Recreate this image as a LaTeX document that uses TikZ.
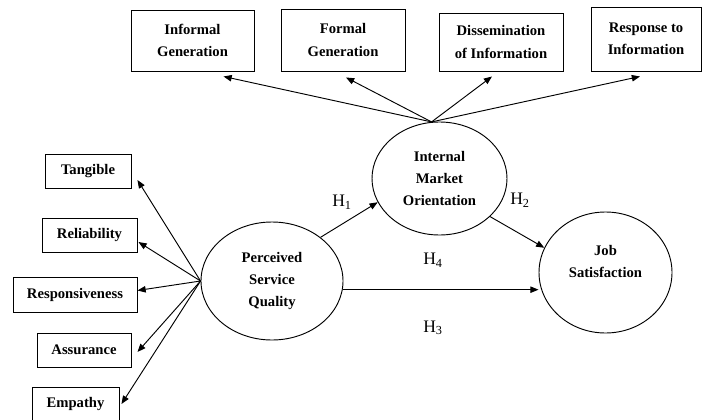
\documentclass[tikz,border=0pt]{standalone}
\usepackage{fontspec}
\setmainfont{Liberation Serif}
\usetikzlibrary{arrows.meta, shapes.geometric}

\begin{document}
\begin{tikzpicture}[x=0.03cm, y=-0.03cm,
    every node/.style={font=\bfseries\fontsize{12.5}{18.8}\selectfont, align=center},
    dimbox/.style={draw, line width=0.8pt, inner sep=0pt},
    construct/.style={draw, ellipse, line width=0.8pt, inner sep=0pt},
    hyp/.style={font=\fontsize{15}{18}\selectfont},
    arr/.style={-{Triangle[length=7pt, width=5.5pt]}, line width=0.8pt}]
        \useasboundingbox (0,0) rectangle (702,419);
        % internal market orientation dimensions
        \node[dimbox, minimum width=3.69cm, minimum height=1.83cm] (infgen) at (192.5,40.5) {Informal\\Generation};
        \node[dimbox, minimum width=3.72cm, minimum height=1.86cm] (forgen) at (343,40) {Formal\\Generation};
        \node[dimbox, minimum width=3.72cm, minimum height=1.74cm] (dissem) at (501,42) {Dissemination\\of Information};
        \node[dimbox, minimum width=3.3cm, minimum height=1.92cm] (respinf) at (646,39) {Response to\\Information};
        % service quality dimensions
        \node[dimbox, minimum width=2.58cm, minimum height=1.02cm] (tang) at (88,171) {Tangible};
        \node[dimbox, minimum width=2.85cm, minimum height=1.02cm] (reli) at (89.5,235) {Reliability};
        \node[dimbox, minimum width=3.72cm, minimum height=1.05cm] (resn) at (75,294.5) {Responsiveness};
        \node[dimbox, minimum width=2.82cm, minimum height=1.02cm] (assur) at (84,350) {Assurance};
        \node[dimbox, minimum width=2.61cm, minimum height=1.02cm] (empa) at (75.5,404) {Empathy};
        % constructs
        \node[construct, minimum width=4.26cm, minimum height=3.54cm] (psq) at (272,281) {Perceived\\Service\\Quality};
        \node[construct, minimum width=4.05cm, minimum height=3.39cm] (imo) at (439.5,178.5) {Internal\\Market\\Orientation};
        \node[construct, minimum width=3.99cm, minimum height=3.63cm] (jsat) at (605.5,272.5) {Job\\Satisfaction\\~};
        % hypotheses
        \node[hyp] (h1) at (342,202) {H\textsubscript{1}};
        \node[hyp] (h2) at (520,200) {H\textsubscript{2}};
        \node[hyp] (h4) at (433,260) {H\textsubscript{4}};
        \node[hyp] (h3) at (433,328) {H\textsubscript{3}};

        \draw[arr] (imo.98) -- ([shift={(31,5)}]infgen.south);
        \draw[arr] (imo.98) -- ([shift={(3,6)}]forgen.south);
        \draw[arr] (imo.98) -- ([shift={(-9,5)}]dissem.south);
        \draw[arr] (imo.98) -- ([shift={(-6,5)}]respinf.south);

        \draw[arr] (psq.west) -- ([shift={(6,9)}]tang.east);
        \draw[arr] (psq.west) -- ([shift={(1,7)}]reli.east);
        \draw[arr] (psq.west) -- ([shift={(0,-4)}]resn.east);
        \draw[arr] (psq.west) -- ([shift={(6,2)}]assur.east);
        \draw[arr] (psq.west) -- ([shift={(2,0)}]empa.east);

        \draw[arr] (psq.42) -- (imo.201);
        \draw[arr] (imo.-37) -- (jsat.158);
        \draw[arr] (psq.-7) -- (psq.-7 -| jsat.west);
      \end{tikzpicture}
\end{document}
